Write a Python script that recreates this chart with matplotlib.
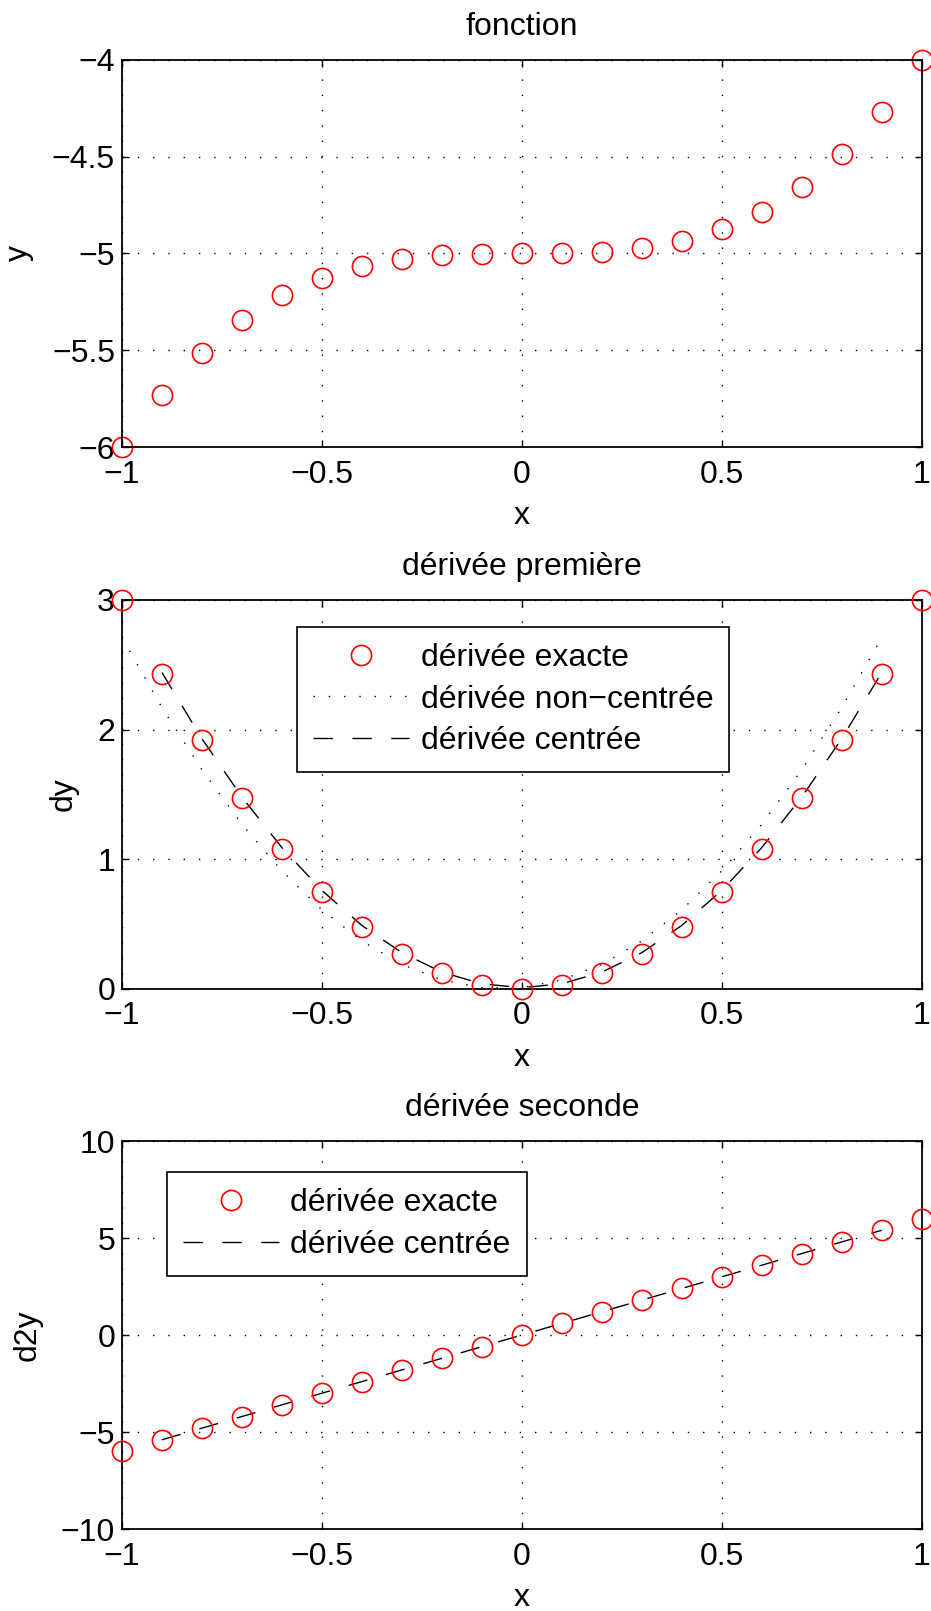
import matplotlib

matplotlib.use("Agg")
import matplotlib.pyplot as plt

plt.rcParams["font.family"] = ["Liberation Sans", "DejaVu Sans"]
plt.rcParams["axes.unicode_minus"] = True

# sample points
x = [-1.0, -0.9, -0.8, -0.7, -0.6, -0.5, -0.4, -0.3, -0.2, -0.1, 0.0,
     0.1, 0.2, 0.3, 0.4, 0.5, 0.6, 0.7, 0.8, 0.9, 1.0]

# function values
y = [-6.0, -5.729, -5.512, -5.343, -5.216, -5.125, -5.064, -5.027, -5.008,
     -5.001, -5.0, -4.999, -4.992, -4.973, -4.936, -4.875, -4.784, -4.657,
     -4.488, -4.271, -4.0]

# first derivative
dy_exact = [3.0, 2.43, 1.92, 1.47, 1.08, 0.75, 0.48, 0.27, 0.12, 0.03, 0.0,
            0.03, 0.12, 0.27, 0.48, 0.75, 1.08, 1.47, 1.92, 2.43, 3.0]
x_fwd = x[:-1]
dy_fwd = [2.71, 2.17, 1.69, 1.27, 0.91, 0.61, 0.37, 0.19, 0.07, 0.01, 0.01,
          0.07, 0.19, 0.37, 0.61, 0.91, 1.27, 1.69, 2.17, 2.71]
x_ctr = x[1:-1]
dy_ctr = [2.44, 1.93, 1.48, 1.09, 0.76, 0.49, 0.28, 0.13, 0.04, 0.01,
          0.04, 0.13, 0.28, 0.49, 0.76, 1.09, 1.48, 1.93, 2.44]

# second derivative
d2y_exact = [-6.0, -5.4, -4.8, -4.2, -3.6, -3.0, -2.4, -1.8, -1.2, -0.6, 0.0,
             0.6, 1.2, 1.8, 2.4, 3.0, 3.6, 4.2, 4.8, 5.4, 6.0]
d2y_ctr = [-5.4, -4.8, -4.2, -3.6, -3.0, -2.4, -1.8, -1.2, -0.6, 0.0,
           0.6, 1.2, 1.8, 2.4, 3.0, 3.6, 4.2, 4.8, 5.4]

FS = 23
MS = 14.5
DOTS = (0, (1, 10))
DASH = (0, (14, 14))


def style_axes(ax, ylim, yticks, ylabel, title):
    ax.set_xlim(-1, 1)
    ax.set_ylim(*ylim)
    ax.set_xticks([-1, -0.5, 0, 0.5, 1])
    ax.set_xticklabels(["\u22121", "\u22120.5", "0", "0.5", "1"])
    ax.set_yticks(yticks)
    ax.set_yticklabels([("%g" % v).replace("-", "\u2212") for v in yticks])
    ax.tick_params(direction="in", top=True, right=True, length=5,
                   width=1.0, labelsize=FS)
    ax.tick_params(axis="x", pad=9)
    ax.tick_params(axis="y", pad=5)
    ax.grid(True, linestyle=(0, (1, 10)), color="black", linewidth=1.0)
    for s in ax.spines.values():
        s.set_linewidth(1.3)
    ax.set_xlabel("x", fontsize=FS, labelpad=8)
    ax.set_ylabel(ylabel, fontsize=FS, labelpad=13)
    ax.set_title(title, fontsize=FS, pad=18)


fig = plt.figure(figsize=(9.31, 16.11), dpi=100)
L, W = 0.131, 0.859
ax1 = fig.add_axes([L, 0.7225, W, 0.2403])
ax2 = fig.add_axes([L, 0.3861, W, 0.2415])
ax3 = fig.add_axes([L, 0.0509, W, 0.2408])

leg_kw = dict(loc="upper left", fontsize=FS, fancybox=False, framealpha=1,
              edgecolor="black", handlelength=3.0, handletextpad=0.37,
              borderpad=0.5, labelspacing=0.37, borderaxespad=0)

# function
ax1.plot(x, y, "o", mfc="none", mec="red", ms=MS, mew=1.2, clip_on=False)
style_axes(ax1, (-6, -4), [-6, -5.5, -5, -4.5, -4], "y", "fonction")

# first derivative
ax2.plot(x, dy_exact, "o", mfc="none", mec="red", ms=MS, mew=1.2,
         clip_on=False, label="dérivée exacte", zorder=3)
ax2.plot(x_fwd, dy_fwd, color="black", lw=1.0, linestyle=DOTS,
         label="dérivée non\u2212centrée")
ax2.plot(x_ctr, dy_ctr, color="black", lw=1.0, linestyle=DASH,
         label="dérivée centrée")
style_axes(ax2, (0, 3), [0, 1, 2, 3], "dy", "dérivée première")
leg2 = ax2.legend(bbox_to_anchor=(0.219, 0.931), **leg_kw)
leg2.get_frame().set_linewidth(1.2)

# second derivative
ax3.plot(x, d2y_exact, "o", mfc="none", mec="red", ms=MS, mew=1.2,
         clip_on=False, label="dérivée exacte", zorder=3)
ax3.plot(x_ctr, d2y_ctr, color="black", lw=1.0, linestyle=DASH,
         label="dérivée centrée")
style_axes(ax3, (-10, 10), [-10, -5, 0, 5, 10], "d2y", "dérivée seconde")
leg3 = ax3.legend(bbox_to_anchor=(0.056, 0.92), **leg_kw)
leg3.get_frame().set_linewidth(1.2)

fig.savefig("out.png", dpi=100)
